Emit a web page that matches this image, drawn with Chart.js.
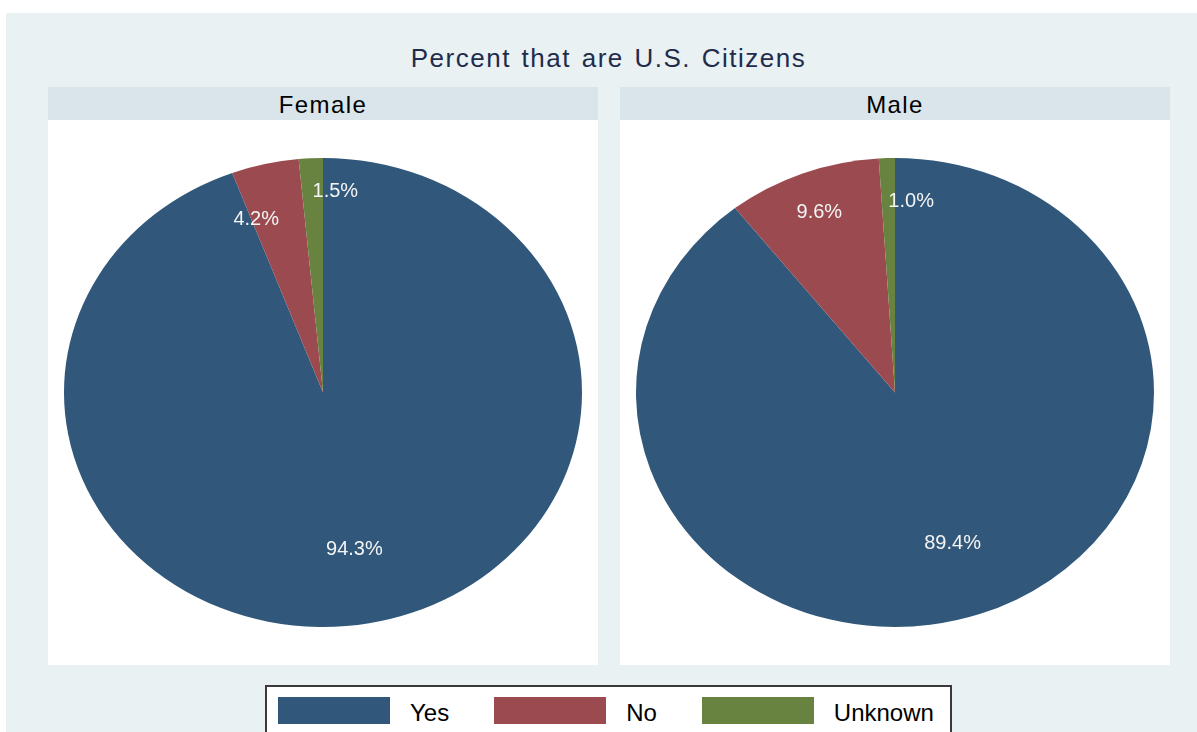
<!DOCTYPE html>
<html>
<head>
<meta charset="utf-8">
<script src="https://cdn.jsdelivr.net/npm/chart.js@4.4.0/dist/chart.umd.min.js"></script>
<style>
  body { margin: 0; width: 1197px; height: 732px; overflow: hidden; background: #fff;
         font-family: Arial, "Liberation Sans", sans-serif; position: relative; }
  #bg { position: absolute; left: 6px; top: 13px; right: 0; bottom: 0; background: #e9f1f3; }
  #title { position: absolute; left: 0; width: 1217px; top: 45px; text-align: center;
           font-size: 26px; line-height: 26px; color: #1f2c4c; letter-spacing: 1.5px; word-spacing: 2px; }
  .panel { position: absolute; top: 87px; width: 550px; }
  .panel .head { height: 33px; line-height: 35px; background: #d9e5eb; text-align: center;
                 font-size: 24px; color: #000; letter-spacing: 1.4px; }
  .panel .plot { background: #fff; width: 550px; height: 545px; }
  #legend { position: absolute; left: 265px; top: 685px; width: 687px; height: 60px;
            border: 2px solid #3a3a3a; background: #fff; display: flex; padding: 10px 0 0 11px; box-sizing: border-box; }
  .item { display: flex; align-items: center; height: 27px; margin-right: 45px; }
  .swatch { width: 112px; height: 27px; margin-right: 20px; }
  .item span { font-size: 24px; line-height: 27px; position: relative; top: 2px; }
</style>
</head>
<body>
<div id="bg"></div>
<div id="title">Percent that are U.S. Citizens</div>
<div class="panel" style="left:48px"><div class="head" id="head0"></div><div class="plot"><canvas id="pie0" width="550" height="545"></canvas></div></div>
<div class="panel" style="left:620px"><div class="head" id="head1"></div><div class="plot"><canvas id="pie1" width="550" height="545"></canvas></div></div>
<div id="legend"></div>
<script>
// Data
const categories = ['Yes', 'No', 'Unknown'];
const panels = ['Female', 'Male'];
const femaleValues = [94.3, 4.2, 1.5];
const maleValues = [89.4, 9.6, 1.0];
const colors = ['#31587b', '#9b4a50', '#68823f'];

// label placement (fraction of radius, text alignment) per panel
const labelStyle = [
    { radius: [0.68, 0.757, 0.86], align: ['center', 'right', 'left'] },
    { radius: [0.68, 0.82, 0.817], align: ['center', 'center', 'left'] }
];
const stretchX = 259 / 234.5; // pies are drawn as ellipses

// stretch the pie horizontally and write the percent labels
const ellipsePie = {
    id: 'ellipsePie',
    beforeDatasetsDraw(chart) {
        const arc = chart.getDatasetMeta(0).data[0];
        const ctx = chart.ctx;
        ctx.save();
        ctx.translate(arc.x, arc.y);
        ctx.scale(stretchX, 1);
        ctx.translate(-arc.x, -arc.y);
    },
    afterDatasetsDraw(chart, args, opts) {
        const ctx = chart.ctx;
        ctx.restore();
        const arcs = chart.getDatasetMeta(0).data;
        const values = chart.data.datasets[0].data;
        ctx.save();
        ctx.font = '20px Arial, "Liberation Sans", sans-serif';
        ctx.fillStyle = '#f4f4f4';
        ctx.textBaseline = 'middle';
        arcs.forEach((a, i) => {
            const mid = (a.startAngle + a.endAngle) / 2;
            const r = a.outerRadius * opts.radius[i];
            ctx.textAlign = opts.align[i];
            ctx.fillText(values[i].toFixed(1) + '%', a.x + Math.cos(mid) * r * stretchX, a.y + Math.sin(mid) * r);
        });
        ctx.restore();
    }
};

function makePie(id, values, style) {
    return new Chart(document.getElementById(id), {
        type: 'pie',
        data: {
            labels: categories,
            datasets: [{
                data: values,
                backgroundColor: colors,
                borderWidth: 0
            }]
        },
        options: {
            responsive: false,
            animation: false,
            events: [],
            layout: { padding: 38 },
            plugins: {
                legend: { display: false },
                tooltip: { enabled: false },
                ellipsePie: style
            }
        },
        plugins: [ellipsePie]
    });
}

document.getElementById('head0').textContent = panels[0];
document.getElementById('head1').textContent = panels[1];
makePie('pie0', femaleValues, labelStyle[0]);
makePie('pie1', maleValues, labelStyle[1]);

// legend
const legend = document.getElementById('legend');
categories.forEach((c, i) => {
    const item = document.createElement('div');
    item.className = 'item';
    item.innerHTML = '<div class="swatch" style="background:' + colors[i] + '"></div><span>' + c + '</span>';
    legend.appendChild(item);
});
</script>
</body>
</html>
